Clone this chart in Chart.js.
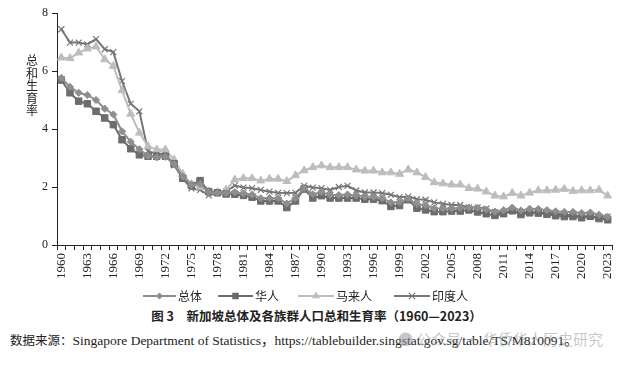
<!DOCTYPE html>
<html>
<head>
<meta charset="utf-8">
<script src="https://cdn.jsdelivr.net/npm/chart.js@4/dist/chart.umd.min.js"></script>
<style>
  html,body{margin:0;padding:0;background:#fff;}
  #wrap{position:relative;width:633px;height:365px;overflow:hidden;}
  #box{position:absolute;left:0;top:0;width:633px;height:305px;}
  .t{position:absolute;white-space:nowrap;color:#222;}
  #ytitle{left:25px;top:54px;width:14px;font:12px "Noto Sans CJK SC";line-height:12.5px;text-align:center;}
  #caption{left:0;width:633px;top:306px;text-align:center;font:bold 12.5px "Noto Sans CJK SC";}
  #src{left:10px;top:329px;font:13.5px "Liberation Serif","Noto Sans CJK SC";}
  #src .cn{font-family:"Noto Sans CJK SC";font-size:12.5px;}
  #wm{left:398px;top:328px;font:15px "Noto Sans CJK SC";color:rgba(150,150,150,0.55);}
</style>
</head>
<body>
<div id="wrap">
  <div id="box"><canvas id="c"></canvas></div>
  <div class="t" id="ytitle">总<br>和<br>生<br>育<br>率</div>
  <div class="t" id="caption">图 3　新加坡总体及各族群人口总和生育率（1960—2023）</div>
  <div class="t" id="src"><span class="cn">数据来源：</span>Singapore Department of Statistics，https://tablebuilder.singstat.gov.sg/table/TS/M810091。</div>
  <div class="t" id="wm">● 公众号 · 华侨华人历史研究</div>
</div>
<script>
const years = [];
for (let y = 1960; y <= 2023; y++) years.push(String(y));

const seriesNames = ["总体", "华人", "马来人", "印度人"];

const totalTFR = [5.76,5.45,5.25,5.17,5.00,4.70,4.50,3.92,3.56,3.30,
  3.07,3.02,3.04,2.79,2.36,2.07,2.11,1.82,1.79,1.79,
  1.82,1.78,1.74,1.61,1.62,1.61,1.43,1.62,1.96,1.75,
  1.83,1.73,1.72,1.74,1.71,1.67,1.66,1.61,1.47,1.47,
  1.60,1.41,1.37,1.27,1.26,1.26,1.28,1.29,1.28,1.22,
  1.15,1.20,1.29,1.19,1.25,1.24,1.20,1.16,1.14,1.14,
  1.10,1.12,1.04,0.97];

const chineseTFR = [5.69,5.25,4.96,4.87,4.61,4.38,4.15,3.63,3.32,3.11,
  3.06,3.06,3.06,2.80,2.30,2.05,2.22,1.84,1.80,1.76,
  1.75,1.71,1.65,1.52,1.52,1.52,1.29,1.52,1.93,1.62,
  1.70,1.62,1.62,1.62,1.62,1.58,1.58,1.53,1.33,1.36,
  1.56,1.27,1.21,1.15,1.15,1.17,1.17,1.21,1.14,1.08,
  1.02,1.08,1.18,1.05,1.11,1.10,1.06,1.01,0.98,0.98,
  0.94,0.99,0.91,0.87];

const malayTFR = [6.46,6.44,6.63,6.77,6.84,6.40,6.17,5.33,4.52,3.87,
  3.40,3.29,3.29,2.94,2.45,2.10,2.00,1.85,1.82,1.90,
  2.25,2.30,2.30,2.22,2.28,2.28,2.20,2.40,2.57,2.68,
  2.74,2.68,2.68,2.68,2.60,2.56,2.56,2.50,2.50,2.45,
  2.60,2.50,2.34,2.16,2.12,2.08,2.08,1.96,1.94,1.84,
  1.70,1.67,1.79,1.70,1.80,1.88,1.88,1.90,1.93,1.86,
  1.88,1.88,1.90,1.70];

const indianTFR = [7.44,6.98,6.98,6.92,7.10,6.75,6.65,5.65,4.87,4.61,
  3.23,3.15,3.15,2.75,2.30,1.95,1.90,1.71,1.80,1.84,
  2.05,1.98,1.96,1.90,1.84,1.80,1.79,1.80,2.04,1.98,
  1.96,1.90,2.00,2.04,1.88,1.81,1.81,1.79,1.73,1.65,
  1.67,1.58,1.56,1.47,1.42,1.38,1.38,1.30,1.30,1.25,
  1.13,1.09,1.19,1.11,1.14,1.12,1.12,1.09,1.04,1.03,
  0.98,0.99,0.96,0.98];

const yTicks = [0, 2, 4, 6, 8];

const styles = [
  {color:"#8e8e8e", point:"rectRot", r:3.6, bw:1},
  {color:"#6c6c6c", point:"rect", r:4.6, bw:1},
  {color:"#bdbdbd", point:"triangle", r:4.6, bw:1},
  {color:"#767676", point:"crossRot", r:4.2, bw:1.2}
];
const values = [totalTFR, chineseTFR, malayTFR, indianTFR];

const datasets = values.map((v, i) => ({
  label: seriesNames[i],
  data: v,
  borderColor: styles[i].color,
  backgroundColor: styles[i].color,
  borderWidth: 2,
  pointStyle: styles[i].point,
  pointRadius: styles[i].r,
  pointBorderWidth: styles[i].bw,
  pointBackgroundColor: styles[i].color,
  pointBorderColor: styles[i].color,
  tension: 0,
  fill: false
}));

function drawMarker(ctx, st, x, y) {
  ctx.save();
  ctx.fillStyle = st.color; ctx.strokeStyle = st.color; ctx.lineWidth = st.bw;
  const r = st.r;
  ctx.beginPath();
  if (st.point === "rectRot") {
    ctx.moveTo(x, y - r); ctx.lineTo(x + r, y); ctx.lineTo(x, y + r); ctx.lineTo(x - r, y); ctx.closePath(); ctx.fill();
  } else if (st.point === "rect") {
    const s = r * Math.SQRT1_2;
    ctx.rect(x - s, y - s, 2 * s, 2 * s); ctx.fill();
  } else if (st.point === "triangle") {
    const w = r * 0.866 * 2;
    ctx.moveTo(x, y - r); ctx.lineTo(x + w / 2, y + r / 2); ctx.lineTo(x - w / 2, y + r / 2); ctx.closePath(); ctx.fill();
  } else {
    const s = r * 0.75;
    ctx.moveTo(x - s, y - s); ctx.lineTo(x + s, y + s); ctx.moveTo(x + s, y - s); ctx.lineTo(x - s, y + s); ctx.stroke();
  }
  ctx.restore();
}

const legendPlugin = {
  id: "lineLegend",
  afterDraw(chart) {
    const ctx = chart.ctx;
    const items = [
      {x0:143, x1:176, tx:178},
      {x0:218, x1:253, tx:255},
      {x0:298, x1:334, tx:336},
      {x0:394, x1:430, tx:432}
    ];
    const y = 296;
    ctx.save();
    items.forEach((it, i) => {
      const st = styles[i];
      ctx.strokeStyle = st.color; ctx.lineWidth = 2;
      ctx.beginPath(); ctx.moveTo(it.x0, y); ctx.lineTo(it.x1, y); ctx.stroke();
      drawMarker(ctx, st, (it.x0 + it.x1) / 2, y);
      ctx.fillStyle = "#222";
      ctx.font = '12px "Noto Sans CJK SC"';
      ctx.textBaseline = "middle";
      ctx.textAlign = "left";
      ctx.fillText(seriesNames[i], it.tx, y);
    });
    ctx.restore();
  }
};

new Chart(document.getElementById("c"), {
  type: "line",
  data: { labels: years, datasets },
  plugins: [legendPlugin],
  options: {
    responsive: true,
    maintainAspectRatio: false,
    animation: false,
    events: [],
    layout: { padding: { left: 0, top: 13, right: 21, bottom: 10 } },
    plugins: { legend: { display: false }, tooltip: { enabled: false } },
    scales: {
      x: {
        type: "category",
        offset: true,
        afterFit(s) { s.height = 50; },
        grid: { offset: true, drawOnChartArea: false, drawTicks: true, tickLength: 5, color: "#222", lineWidth: 1 },
        border: { display: true, color: "#222", width: 1 },
        ticks: {
          autoSkip: false,
          minRotation: 90,
          maxRotation: 90,
          padding: 3,
          color: "#222",
          font: { family: "Liberation Serif", size: 13 },
          callback(v, i) { return (i % 3 === 0) ? years[i] : ""; }
        }
      },
      y: {
        min: yTicks[0],
        max: yTicks[yTicks.length - 1],
        afterFit(s) { s.width = 57; },
        afterBuildTicks(s) { s.ticks = yTicks.map(v => ({ value: v })); },
        grid: { drawOnChartArea: false, drawTicks: true, tickLength: 5, color: "#222", lineWidth: 1 },
        border: { display: true, color: "#222", width: 1 },
        ticks: {
          padding: 4,
          color: "#222",
          font: { family: "Liberation Serif", size: 12 }
        }
      }
    }
  }
});
</script>
</body>
</html>
